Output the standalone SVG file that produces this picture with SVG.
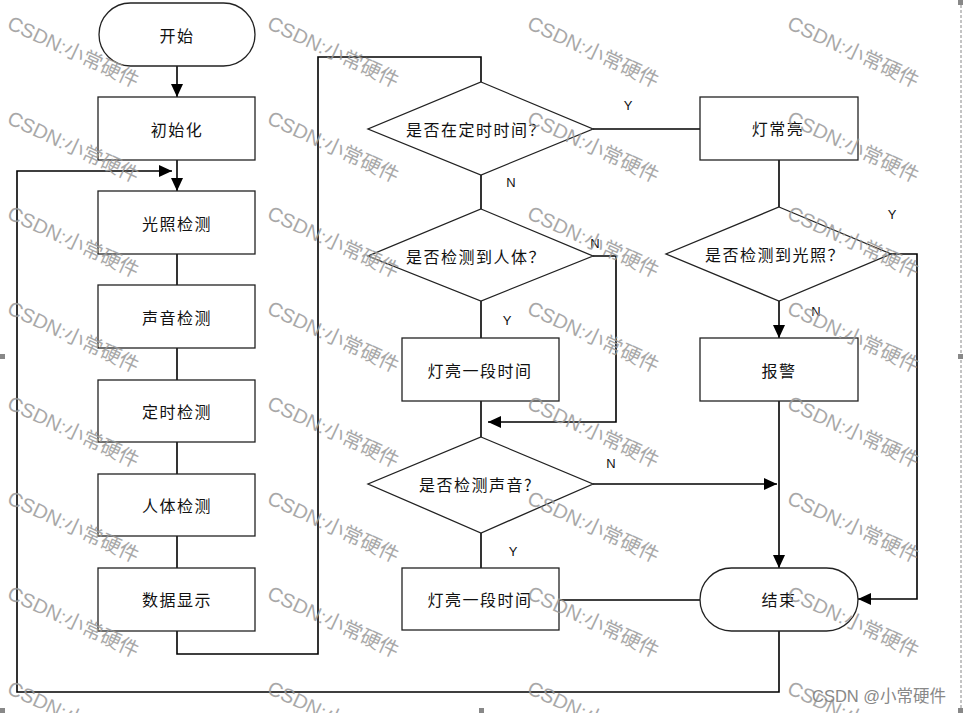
<svg xmlns="http://www.w3.org/2000/svg" width="963" height="713" viewBox="0 0 963 713">
<style>
.wm{font-family:"Liberation Sans","Noto Sans CJK SC",sans-serif;font-size:20px;fill:#9a9a9a;opacity:0.85}
.box{fill:#fff;stroke:#222;stroke-width:1.3}
.t{font-family:"Noto Sans CJK SC","Liberation Sans",sans-serif;font-size:16px;fill:#111;text-anchor:middle;dominant-baseline:central;letter-spacing:1.5px}
.lb{font-family:"Liberation Sans",Arial,sans-serif;font-size:13px;fill:#111;text-anchor:middle;dominant-baseline:central}
.c{fill:none;stroke:#000;stroke-width:1.6}
.h{fill:#888}
</style>
<defs>
<marker id="ah" markerUnits="userSpaceOnUse" markerWidth="14" markerHeight="12" refX="13" refY="6" orient="auto">
<path d="M0,0 L13,6 L0,12 Z" fill="#000"/>
</marker>
</defs>
<rect width="963" height="713" fill="#fff"/>
<line x1="961" y1="0" x2="961" y2="710" stroke="#888" stroke-width="1" stroke-dasharray="3,2"/>
<rect class="h" x="958" y="0" width="5" height="5"/>
<rect class="h" x="958" y="354" width="5" height="5"/>
<rect class="h" x="0" y="354" width="5" height="5"/>
<rect class="h" x="479" y="708" width="5" height="5"/>
<rect class="h" x="958" y="708" width="5" height="5"/>
<rect class="h" x="0" y="708" width="5" height="5"/>

<g id="connectors">
<line class="c" x1="177" y1="66" x2="177" y2="97" marker-end="url(#ah)"/>
<line class="c" x1="177" y1="160" x2="177" y2="191" marker-end="url(#ah)"/>
<line class="c" x1="177" y1="254" x2="177" y2="285"/>
<line class="c" x1="177" y1="348" x2="177" y2="380"/>
<line class="c" x1="177" y1="442" x2="177" y2="474"/>
<line class="c" x1="177" y1="536" x2="177" y2="568"/>
<polyline class="c" points="177,631 177,654 318,654 318,57 481,57 481,82"/>
<line class="c" x1="481" y1="175" x2="481" y2="209"/>
<line class="c" x1="481" y1="301" x2="481" y2="338"/>
<line class="c" x1="481" y1="401" x2="481" y2="437"/>
<line class="c" x1="481" y1="533" x2="481" y2="568"/>
<polyline class="c" points="593,256 616,256 616,422 488,422" marker-end="url(#ah)"/>
<line class="c" x1="593" y1="129" x2="700" y2="129"/>
<line class="c" x1="779" y1="160" x2="779" y2="207"/>
<line class="c" x1="779" y1="301" x2="779" y2="338" marker-end="url(#ah)"/>
<polyline class="c" points="891,254 917,254 917,599 858,599" marker-end="url(#ah)"/>
<line class="c" x1="779" y1="401" x2="779" y2="568" marker-end="url(#ah)"/>
<line class="c" x1="593" y1="484" x2="777" y2="484" marker-end="url(#ah)"/>
<line class="c" x1="559" y1="600" x2="700" y2="600"/>
<polyline class="c" points="779,631 779,692 17,692 17,171 172,171" marker-end="url(#ah)"/>
</g>

<g id="start"><rect class="box" x="99" y="3" width="156" height="63" rx="31.5"/><text class="t" x="177" y="35">开始</text></g>
<g id="init"><rect class="box" x="98" y="97" width="157" height="63"/><text class="t" x="177" y="129">初始化</text></g>
<g id="light"><rect class="box" x="98" y="191" width="157" height="63"/><text class="t" x="177" y="223">光照检测</text></g>
<g id="sound"><rect class="box" x="98" y="285" width="157" height="63"/><text class="t" x="177" y="317">声音检测</text></g>
<g id="timer"><rect class="box" x="98" y="380" width="157" height="62"/><text class="t" x="177" y="411">定时检测</text></g>
<g id="body"><rect class="box" x="98" y="474" width="157" height="62"/><text class="t" x="177" y="505">人体检测</text></g>
<g id="display"><rect class="box" x="98" y="568" width="157" height="63"/><text class="t" x="177" y="599">数据显示</text></g>

<g id="d-time"><polygon class="box" points="481,82 593,129 481,175 368,129"/><text class="t" x="476" y="129">是否在定时时间？</text></g>
<g id="d-body"><polygon class="box" points="481,209 593,256 481,301 368,256"/><text class="t" x="476" y="256">是否检测到人体？</text></g>
<g id="on1"><rect class="box" x="402" y="338" width="157" height="63"/><text class="t" x="480" y="370">灯亮一段时间</text></g>
<g id="d-sound"><polygon class="box" points="481,437 593,484 481,533 368,484"/><text class="t" x="476" y="484">是否检测声音?</text></g>
<g id="on2"><rect class="box" x="402" y="568" width="157" height="62"/><text class="t" x="480" y="599">灯亮一段时间</text></g>
<g id="always"><rect class="box" x="700" y="97" width="158" height="63"/><text class="t" x="778" y="128">灯常亮</text></g>
<g id="d-light"><polygon class="box" points="779,207 891,254 779,301 666,254"/><text class="t" x="775" y="254">是否检测到光照？</text></g>
<g id="alarm"><rect class="box" x="700" y="338" width="158" height="63"/><text class="t" x="779" y="370">报警</text></g>
<g id="end"><rect class="box" x="700" y="568" width="158" height="63" rx="31.5"/><text class="t" x="779" y="599">结束</text></g>

<g id="labels">
<text class="lb" x="628" y="105">Y</text>
<text class="lb" x="511" y="182">N</text>
<text class="lb" x="595" y="243">N</text>
<text class="lb" x="507" y="320">Y</text>
<text class="lb" x="611" y="463">N</text>
<text class="lb" x="513" y="551">Y</text>
<text class="lb" x="892" y="214">Y</text>
<text class="lb" x="816" y="311">N</text>
</g>

<g id="watermark">
<text class="wm" transform="translate(6,28) rotate(25)">CSDN:小常硬件</text>
<text class="wm" transform="translate(6,123) rotate(25)">CSDN:小常硬件</text>
<text class="wm" transform="translate(6,218) rotate(25)">CSDN:小常硬件</text>
<text class="wm" transform="translate(6,313) rotate(25)">CSDN:小常硬件</text>
<text class="wm" transform="translate(6,408) rotate(25)">CSDN:小常硬件</text>
<text class="wm" transform="translate(6,503) rotate(25)">CSDN:小常硬件</text>
<text class="wm" transform="translate(6,598) rotate(25)">CSDN:小常硬件</text>
<text class="wm" transform="translate(6,693) rotate(25)">CSDN:小常硬件</text>
<text class="wm" transform="translate(266,28) rotate(25)">CSDN:小常硬件</text>
<text class="wm" transform="translate(266,123) rotate(25)">CSDN:小常硬件</text>
<text class="wm" transform="translate(266,218) rotate(25)">CSDN:小常硬件</text>
<text class="wm" transform="translate(266,313) rotate(25)">CSDN:小常硬件</text>
<text class="wm" transform="translate(266,408) rotate(25)">CSDN:小常硬件</text>
<text class="wm" transform="translate(266,503) rotate(25)">CSDN:小常硬件</text>
<text class="wm" transform="translate(266,598) rotate(25)">CSDN:小常硬件</text>
<text class="wm" transform="translate(266,693) rotate(25)">CSDN:小常硬件</text>
<text class="wm" transform="translate(526,28) rotate(25)">CSDN:小常硬件</text>
<text class="wm" transform="translate(526,123) rotate(25)">CSDN:小常硬件</text>
<text class="wm" transform="translate(526,218) rotate(25)">CSDN:小常硬件</text>
<text class="wm" transform="translate(526,313) rotate(25)">CSDN:小常硬件</text>
<text class="wm" transform="translate(526,408) rotate(25)">CSDN:小常硬件</text>
<text class="wm" transform="translate(526,503) rotate(25)">CSDN:小常硬件</text>
<text class="wm" transform="translate(526,598) rotate(25)">CSDN:小常硬件</text>
<text class="wm" transform="translate(526,693) rotate(25)">CSDN:小常硬件</text>
<text class="wm" transform="translate(786,28) rotate(25)">CSDN:小常硬件</text>
<text class="wm" transform="translate(786,123) rotate(25)">CSDN:小常硬件</text>
<text class="wm" transform="translate(786,218) rotate(25)">CSDN:小常硬件</text>
<text class="wm" transform="translate(786,313) rotate(25)">CSDN:小常硬件</text>
<text class="wm" transform="translate(786,408) rotate(25)">CSDN:小常硬件</text>
<text class="wm" transform="translate(786,503) rotate(25)">CSDN:小常硬件</text>
<text class="wm" transform="translate(786,598) rotate(25)">CSDN:小常硬件</text>
<text class="wm" transform="translate(786,693) rotate(25)">CSDN:小常硬件</text>
<text x="812" y="702" style="font-family:'Liberation Sans','Noto Sans CJK SC',sans-serif;font-size:16.5px;fill:#888">CSDN @小常硬件</text>
</g>
</svg>
